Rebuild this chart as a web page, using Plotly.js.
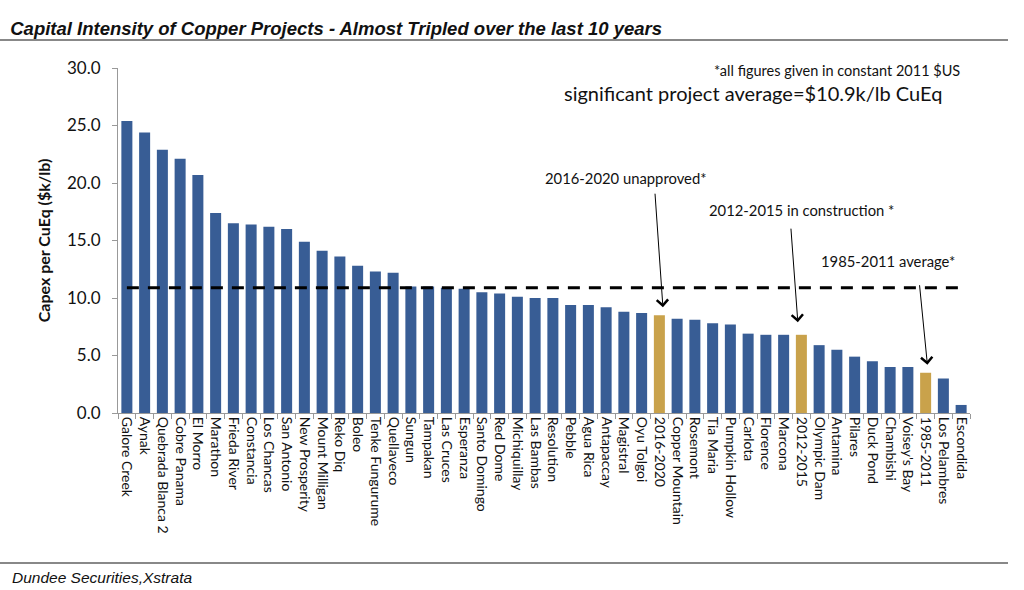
<!DOCTYPE html>
<html>
<head>
<meta charset="utf-8">
<script src="https://cdn.plot.ly/plotly-3.0.1.min.js"></script>
<style>html,body{margin:0;padding:0;background:#fff;}#chart{width:1024px;height:590px;}</style>
</head>
<body>
<div id="chart"></div>
<script>
const projects = ["Galore Creek","Aynak","Quebrada Blanca 2","Cobre Panama","El Morro","Marathon","Frieda River","Constancia","Los Chancas","San Antonio","New Prosperity","Mount Milligan","Reko Diq","Boleo","Tenke Fungurume","Quellaveco","Sungun","Tampakan","Las Cruces","Esperanza","Santo Domingo","Red Dome","Michiquillay","Las Bambas","Resolution","Pebble","Agua Rica","Antapaccay","Magistral","Oyu Tolgoi","2016-2020","Copper Mountain","Rosemont","Tia Maria","Pumpkin Hollow","Carlota","Florence","Marcona","2012-2015","Olympic Dam","Antamina","Pilares","Duck Pond","Chambishi","Voisey's Bay","1985-2011","Los Pelambres","Escondida"];
const capex = [25.4,24.4,22.9,22.1,20.7,17.4,16.5,16.4,16.2,16.0,14.9,14.1,13.6,12.8,12.3,12.2,11.0,11.0,10.9,10.8,10.5,10.4,10.1,10.0,10.0,9.4,9.4,9.2,8.8,8.7,8.5,8.2,8.1,7.8,7.7,6.9,6.8,6.8,6.8,5.9,5.5,4.9,4.5,4.0,4.0,3.5,3.0,0.7];
const averagePeriods = ["2016-2020","2012-2015","1985-2011"];
const significantAverage = 10.9;
const yTicks = [0,5,10,15,20,25,30];

const blue = "#385D95", gold = "#C9A24B";
const colors = projects.map(p => averagePeriods.includes(p) ? gold : blue);
const F = "Lato, 'Open Sans', sans-serif";

const traces = [
  {type:"bar", x:projects, y:capex, marker:{color:colors}, hoverinfo:"x+y"},
  {type:"scatter", mode:"lines", x:[projects[0], projects[projects.length-1]], y:[significantAverage, significantAverage],
   line:{color:"#000", width:3, dash:"12px,9px"}, hoverinfo:"skip"}
];

function idx(name){return projects.indexOf(name);}

const layout = {
  width:1024, height:590,
  margin:{l:118, r:54, t:68, b:177},
  paper_bgcolor:"#fff", plot_bgcolor:"#fff",
  showlegend:false,
  bargap:0.38,
  title:{text:"<b><i>Capital Intensity of Copper Projects - Almost Tripled over the last 10 years</i></b>",
    x:0.01, xref:"container", xanchor:"left", y:0.951, yref:"container", yanchor:"middle",
    font:{family:"'Liberation Sans', Arial, sans-serif", size:18.5, color:"#111"}},
  xaxis:{type:"category", tickangle:90, ticks:"outside", tickson:"boundaries", ticklen:5, tickcolor:"#999",
    showline:true, linecolor:"#999", linewidth:1, showgrid:false, zeroline:false,
    tickfont:{family:F, size:14, color:"#111"}, range:[-0.5, projects.length-0.5], fixedrange:true},
  yaxis:{range:[0,30], tickvals:yTicks, tickformat:".1f", ticks:"outside", ticklen:5, tickcolor:"#999",
    ticklabelstandoff:8,
    showline:true, linecolor:"#999", linewidth:1, showgrid:false, zeroline:false,
    tickfont:{family:F, size:17, color:"#111"},
    title:{text:"<b>Capex per CuEq ($k/lb)</b>", font:{family:F, size:16, color:"#111"}, standoff:12}},
  shapes:[
    {type:"line", xref:"paper", yref:"paper", x0:-0.1385, x1:1.0446, y0:1.081, y1:1.081, line:{color:"#888", width:2}},
    {type:"line", xref:"paper", yref:"paper", x0:-0.1385, x1:1.0446, y0:-0.4348, y1:-0.4348, line:{color:"#888", width:2}}
  ],
  annotations:[
    {xref:"paper", yref:"paper", x:-0.127, y:-0.478, xanchor:"left", yanchor:"middle", showarrow:false,
     text:"<i>Dundee Securities,Xstrata</i>", font:{family:"'Liberation Sans', Arial, sans-serif", size:15.5, color:"#111"}},
    {x:47.05, y:29.8, xref:"x", yref:"y", xanchor:"right", yanchor:"middle", showarrow:false,
     text:"*all figures given in constant 2011 $US", font:{family:F, size:14.5, color:"#111"}},
    {x:35.3, y:27.8, xref:"x", yref:"y", xanchor:"center", yanchor:"middle", showarrow:false,
     text:"significant project average=$10.9k/lb CuEq", font:{family:F, size:20, color:"#111"}},
    {x:28.1, y:20.4, xref:"x", yref:"y", xanchor:"center", yanchor:"middle", showarrow:false,
     text:"2016-2020 unapproved*", font:{family:F, size:14.8, color:"#111"}},
    {x:38, y:17.65, xref:"x", yref:"y", xanchor:"center", yanchor:"middle", showarrow:false,
     text:"2012-2015 in construction *", font:{family:F, size:14.8, color:"#111"}},
    {x:42.9, y:13.2, xref:"x", yref:"y", xanchor:"center", yanchor:"middle", showarrow:false,
     text:"1985-2011 average*", font:{family:F, size:14.8, color:"#111"}},
    {x:idx("2016-2020")+0.2, y:9.2, xref:"x", yref:"y", text:"", showarrow:true, ax:-8, ay:-115,
     arrowhead:4, arrowsize:2.2, arrowwidth:1, arrowcolor:"#000"},
    {x:idx("2012-2015")-0.2, y:7.9, xref:"x", yref:"y", text:"", showarrow:true, ax:-7, ay:-95,
     arrowhead:4, arrowsize:2.2, arrowwidth:1, arrowcolor:"#000"},
    {x:idx("1985-2011")+0.1, y:4.2, xref:"x", yref:"y", text:"", showarrow:true, ax:-8, ay:-81,
     arrowhead:4, arrowsize:2.2, arrowwidth:1, arrowcolor:"#000"}
  ]
};

Plotly.newPlot("chart", traces, layout, {displayModeBar:false, staticPlot:true});
</script>
</body>
</html>
